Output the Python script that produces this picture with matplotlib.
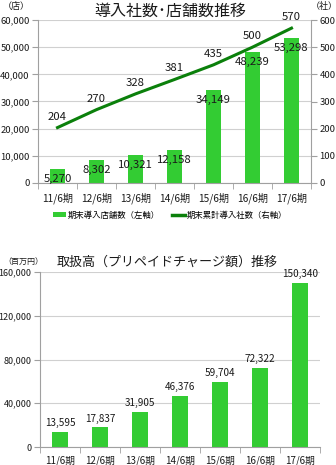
import matplotlib
matplotlib.use("Agg")
import matplotlib.pyplot as plt
from matplotlib.lines import Line2D
from matplotlib.patches import Patch
import numpy as np

plt.rcParams['font.family'] = ['Noto Sans CJK JP', 'DejaVu Sans']

periods = ["11/6期", "12/6期", "13/6期", "14/6期", "15/6期", "16/6期", "17/6期"]
stores = [5270, 8302, 10321, 12158, 34149, 48239, 53298]
companies = [204, 270, 328, 381, 435, 500, 570]
volume = [13595, 17837, 31905, 46376, 59704, 72322, 150340]

store_ticks = [0, 10000, 20000, 30000, 40000, 50000, 60000]
company_ticks = [0, 100, 200, 300, 400, 500, 600]
volume_ticks = [0, 40000, 80000, 120000, 160000]

BAR = "#33cc33"
LINE = "#0b800b"
GRID = "#d0d0d0"
SPINE = "#a0a0a0"
TXT = "#1a1a1a"

W, H = 336, 465
fig = plt.figure(figsize=(W / 100, H / 100), dpi=100)


def rect(l, t, r, b):
    return [l / W, 1 - b / H, (r - l) / W, (b - t) / H]


def fmt(v):
    return f"{v:,}"


x = np.arange(len(periods))

# ---- upper chart: stores (bars, left) and companies (line, right) ----
ax = fig.add_axes(rect(38, 20, 311, 183))
ax.bar(x, stores, width=0.39, color=BAR, zorder=2)
ax.set_xlim(-0.5, len(periods) - 0.5)
ax.set_ylim(0, 60000)
ax.set_yticks(store_ticks)
ax.set_yticklabels([fmt(v) for v in store_ticks], fontsize=6.8, color=TXT)
ax.yaxis.grid(True, color=GRID, lw=0.8, zorder=0)
ax.set_axisbelow(True)
ax.set_xticks(x)
ax.set_xticklabels(periods, fontsize=7.3, color=TXT)
ax.set_xticks(np.arange(-0.5, len(periods)), minor=True)
ax.tick_params(axis='x', which='major', length=0, pad=7)
ax.tick_params(axis='x', which='minor', length=4, color=SPINE)
ax.tick_params(axis='y', length=4, color=SPINE, pad=2)
for s in ['left', 'bottom', 'right']:
    ax.spines[s].set_color(SPINE)
ax.spines['top'].set_visible(False)
for xi, v in zip(x, stores):
    ax.annotate(fmt(v), (xi, v), xytext=(0, -10), textcoords='offset pixels',
                ha='center', va='center', fontsize=8.2, color=TXT, zorder=5)

ax2 = ax.twinx()
ax2.plot(x, companies, color=LINE, lw=2.2, zorder=3)
ax2.set_ylim(0, 600)
ax2.set_yticks(company_ticks)
ax2.set_yticklabels([str(v) for v in company_ticks], fontsize=6.8, color=TXT)
ax2.tick_params(axis='y', length=4, color=SPINE, pad=2)
for s in ax2.spines.values():
    s.set_visible(False)
for xi, v in zip(x, companies):
    ax2.annotate(str(v), (xi, v), xytext=(0, 11), textcoords='offset pixels',
                 ha='center', va='center', fontsize=8.2, color=TXT)

fig.text(170 / W, 1 - 11 / H, "導入社数･店舗数推移", ha='center', va='center',
         fontsize=11.5, color=TXT)
fig.text(16 / W, 1 - 6 / H, "（店）", ha='center', va='center', fontsize=6.5, color=TXT)
fig.text(324 / W, 1 - 6 / H, "（社）", ha='center', va='center', fontsize=6.5, color=TXT)

handles = [Patch(facecolor=BAR, edgecolor='none'),
           Line2D([0], [0], color=LINE, lw=2.5)]
labels = ["期末導入店舗数（左軸）", "期末累計導入社数（右軸）"]
fig.legend(handles, labels, loc='center', bbox_to_anchor=(170 / W, 1 - 215 / H),
           ncol=2, frameon=False, fontsize=6, handlelength=1.6, handleheight=0.5,
           handletextpad=0.2, columnspacing=1.4, borderaxespad=0)

# ---- lower chart: transaction volume ----
bx = fig.add_axes(rect(40, 272, 320, 447))
bx.bar(x, volume, width=0.4, color=BAR, zorder=2)
bx.set_xlim(-0.5, len(periods) - 0.5)
bx.set_ylim(0, 160000)
bx.set_yticks(volume_ticks)
bx.set_yticklabels([fmt(v) for v in volume_ticks], fontsize=6.5, color=TXT)
bx.yaxis.grid(True, color=GRID, lw=0.8, zorder=0)
bx.set_axisbelow(True)
bx.set_xticks(x)
bx.set_xticklabels(periods, fontsize=7, color=TXT)
bx.set_xticks(np.arange(-0.5, len(periods)), minor=True)
bx.tick_params(axis='x', which='major', length=0, pad=6)
bx.tick_params(axis='x', which='minor', length=4, color=SPINE)
bx.tick_params(axis='y', length=4, color=SPINE, pad=2)
for s in ['left', 'bottom']:
    bx.spines[s].set_color(SPINE)
for s in ['top', 'right']:
    bx.spines[s].set_visible(False)
for xi, v in zip(x, volume):
    bx.annotate(fmt(v), (xi, v), xytext=(0, 9), textcoords='offset pixels',
                ha='center', va='center', fontsize=7.2, color=TXT)

fig.text(167 / W, 1 - 262 / H, "取扱高（プリペイドチャージ額）推移", ha='center',
         va='center', fontsize=9.4, color=TXT)
fig.text(23 / W, 1 - 261 / H, "（百万円）", ha='center', va='center', fontsize=5.8,
         color=TXT)

fig.savefig("out.png", dpi=100, facecolor='white')
